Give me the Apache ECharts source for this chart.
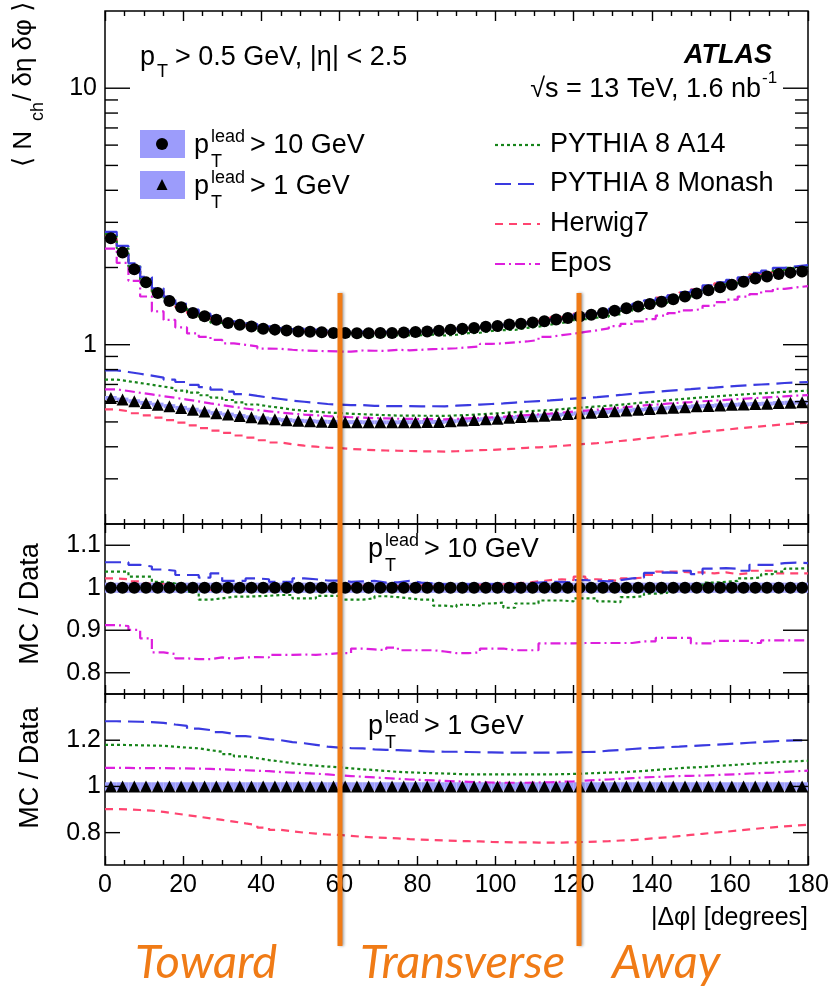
<!DOCTYPE html>
<html><head><meta charset="utf-8">
<script src="https://cdn.jsdelivr.net/npm/echarts@6/dist/echarts.min.js"></script>
<style>html,body{margin:0;padding:0;background:#fff}#c{width:832px;height:986px}</style>
</head><body><div id="c"></div>
<script>
// ---------------- data ----------------
const NBINS = 60;          // 3-degree bins from 0 to 180
const BINW = 3;
const X_MIN = 0, X_MAX = 180;

// data, <N_ch / d eta d phi>, pT(lead) > 10 GeV  (circles)
const dataLead10 = [2.60,2.29,1.97,1.75,1.59,1.48,1.40,1.33,1.29,1.25,
  1.215,1.195,1.178,1.155,1.145,1.135,1.127,1.124,1.118,1.112,
  1.110,1.108,1.108,1.110,1.112,1.115,1.120,1.127,1.134,1.145,
  1.155,1.162,1.175,1.182,1.198,1.207,1.222,1.235,1.255,1.270,
  1.289,1.308,1.330,1.358,1.386,1.410,1.440,1.472,1.505,1.542,
  1.585,1.632,1.675,1.712,1.760,1.810,1.845,1.885,1.910,1.930];
// data, pT(lead) > 1 GeV (triangles)
const dataLead1 = [0.620,0.611,0.602,0.593,0.584,0.576,0.567,0.558,0.549,0.541,
  0.534,0.527,0.521,0.516,0.512,0.508,0.505,0.503,0.501,0.500,
  0.499,0.499,0.498,0.498,0.498,0.499,0.499,0.500,0.500,0.503,
  0.506,0.509,0.512,0.515,0.519,0.523,0.526,0.529,0.533,0.537,
  0.540,0.543,0.546,0.550,0.554,0.558,0.561,0.565,0.568,0.571,
  0.575,0.577,0.580,0.583,0.585,0.587,0.589,0.592,0.594,0.596];

// MC / Data, pT(lead) > 10 GeV
const r10A14 = [1.038,1.038,1.026,1.026,1.014,1.010,0.995,0.990,0.972,0.975,
  0.979,0.979,0.980,0.981,0.983,0.983,0.975,0.975,0.981,0.981,
  0.972,0.972,0.975,0.980,0.978,0.975,0.972,0.972,0.958,0.955,
  0.960,0.958,0.963,0.965,0.953,0.963,0.963,0.970,0.970,0.968,
  0.975,0.975,0.968,0.966,0.978,0.980,0.986,0.988,0.995,0.995,
  0.998,1.012,1.014,1.016,1.022,1.024,1.032,1.038,1.045,1.046];
const r10Monash = [1.060,1.060,1.054,1.050,1.043,1.040,1.030,1.030,1.024,1.034,
  1.016,1.016,1.022,1.020,1.014,1.014,1.022,1.020,1.017,1.017,
  1.014,1.015,1.016,1.012,1.013,1.016,1.012,1.010,1.008,1.006,
  1.008,1.006,1.008,1.010,1.008,1.010,1.012,1.014,1.014,1.012,
  1.018,1.016,1.015,1.018,1.022,1.024,1.035,1.036,1.035,1.040,
  1.032,1.045,1.046,1.045,1.040,1.054,1.054,1.058,1.059,1.058];
const r10Herwig = [1.022,1.020,1.015,1.010,1.010,1.002,1.000,0.998,0.995,0.992,
  0.995,0.998,1.000,1.002,1.000,1.002,1.004,1.002,1.000,1.003,
  1.004,1.005,1.003,1.006,1.004,1.003,1.005,1.003,1.004,1.006,
  1.005,1.007,1.006,1.008,1.010,1.012,1.015,1.018,1.020,1.018,
  1.026,1.020,1.018,1.016,1.022,1.024,1.030,1.038,1.038,1.036,
  1.036,1.034,1.036,1.032,1.034,1.040,1.040,1.034,1.034,1.034];
const r10Epos = [0.912,0.910,0.901,0.881,0.848,0.844,0.834,0.832,0.832,0.836,
  0.833,0.836,0.837,0.836,0.842,0.842,0.843,0.842,0.844,0.846,
  0.846,0.857,0.855,0.853,0.859,0.853,0.853,0.853,0.850,0.846,
  0.846,0.848,0.857,0.857,0.853,0.853,0.853,0.869,0.869,0.869,
  0.870,0.870,0.870,0.870,0.870,0.874,0.874,0.882,0.882,0.882,
  0.869,0.869,0.875,0.875,0.875,0.870,0.876,0.876,0.876,0.876];

// MC / Data, pT(lead) > 1 GeV
const r1A14 = [1.180,1.179,1.178,1.177,1.176,1.172,1.168,1.165,1.157,1.150,
  1.140,1.130,1.122,1.114,1.108,1.100,1.094,1.090,1.086,1.083,
  1.078,1.074,1.071,1.067,1.063,1.061,1.059,1.057,1.056,1.054,
  1.052,1.052,1.052,1.052,1.052,1.052,1.052,1.052,1.053,1.054,
  1.056,1.058,1.060,1.061,1.064,1.067,1.071,1.075,1.079,1.082,
  1.084,1.088,1.091,1.094,1.098,1.101,1.104,1.107,1.109,1.111];
const r1Monash = [1.282,1.281,1.280,1.278,1.275,1.268,1.262,1.250,1.244,1.235,
  1.228,1.218,1.212,1.205,1.200,1.192,1.187,1.180,1.172,1.168,
  1.166,1.165,1.160,1.158,1.157,1.155,1.153,1.151,1.150,1.150,
  1.149,1.148,1.147,1.146,1.146,1.146,1.146,1.146,1.147,1.148,
  1.149,1.150,1.155,1.158,1.162,1.165,1.167,1.170,1.172,1.175,
  1.178,1.180,1.183,1.186,1.189,1.192,1.195,1.198,1.199,1.200];
const r1Herwig = [0.902,0.901,0.898,0.895,0.890,0.883,0.876,0.869,0.862,0.855,
  0.848,0.840,0.833,0.822,0.812,0.806,0.800,0.796,0.792,0.790,
  0.786,0.782,0.779,0.777,0.775,0.772,0.770,0.768,0.766,0.764,
  0.763,0.762,0.760,0.759,0.758,0.758,0.757,0.757,0.757,0.758,
  0.760,0.761,0.763,0.766,0.768,0.772,0.776,0.780,0.785,0.790,
  0.795,0.800,0.804,0.809,0.814,0.819,0.823,0.827,0.831,0.834];
const r1Epos = [1.080,1.080,1.079,1.079,1.079,1.078,1.078,1.077,1.076,1.074,
  1.072,1.070,1.068,1.066,1.062,1.060,1.058,1.055,1.052,1.048,
  1.045,1.042,1.039,1.036,1.033,1.030,1.028,1.026,1.024,1.022,
  1.020,1.018,1.017,1.016,1.016,1.016,1.017,1.018,1.020,1.022,
  1.025,1.028,1.030,1.033,1.036,1.039,1.041,1.043,1.045,1.046,
  1.047,1.049,1.051,1.053,1.056,1.058,1.060,1.063,1.066,1.068];

// relative systematic uncertainty of the data (band)
const sysLead10 = 0.012;
const sysLead1 = 0.018;

// axis ticks
const xTickInterval = 20;
const topMajorTicks = [1, 10];
const topTickLabels = ['1', '10'];
const topMinorTicks = [0.3,0.4,0.5,0.6,0.7,0.8,0.9,2,3,4,5,6,7,8,9];
const midTicks = [0.8, 0.9, 1.0, 1.1];
const midTickLabels = ['0.8', '0.9', '1', '1.1'];
const botTicks = [0.8, 1.0, 1.2];
const botTickLabels = ['0.8', '1', '1.2'];

// ---------------- helpers ----------------
const FONT = '"Liberation Sans", Arial, Helvetica, "DejaVu Sans", sans-serif';
const BAND = '#9c9cfb';
const edges = Array.from({length: NBINS + 1}, (_, i) => i * BINW);
const centers = Array.from({length: NBINS}, (_, i) => (i + 0.5) * BINW);
const mul = (a, b) => a.map((v, i) => v * b[i]);
const stepPts = vals => { const p = vals.map((v, i) => [edges[i], v]); p.push([edges[NBINS], vals[NBINS - 1]]); return p; };

const ST = {
  A14:    {color: '#16841a', type: [3, 3], width: 2.2},
  Monash: {color: '#3a3ae0', type: [16, 7], width: 2.2},
  Herwig: {color: '#ff4470', type: [8, 6], width: 2.2},
  Epos:   {color: '#dd1fdd', type: [10, 4, 2, 4], width: 2.2}
};

function lineSeries(vals, st, xi, yi) {
  return {type: 'line', data: stepPts(vals), xAxisIndex: xi, yAxisIndex: yi, step: 'end',
    showSymbol: false, symbol: 'none', silent: true, z: 3,
    lineStyle: {color: st.color, width: st.width, type: st.type}};
}
function bandSeries(lo, hi, xi, yi) {
  return {type: 'custom', xAxisIndex: xi, yAxisIndex: yi, silent: true, z: 1,
    data: lo.map((l, i) => [edges[i], edges[i + 1], l, hi[i]]),
    encode: {x: [0, 1], y: [2, 3]},
    renderItem(params, api) {
      const a = api.coord([api.value(0), api.value(3)]);
      const b = api.coord([api.value(1), api.value(2)]);
      return {type: 'rect', shape: {x: a[0], y: a[1], width: b[0] - a[0], height: b[1] - a[1]},
        style: {fill: BAND}};
    }};
}
function scatterSeries(vals, symbol, size, xi, yi) {
  return {type: 'scatter', xAxisIndex: xi, yAxisIndex: yi, silent: true, z: 5,
    data: vals.map((v, i) => [centers[i], v]), symbol, symbolSize: size,
    itemStyle: {color: '#000', opacity: 1}};
}
function tickSeries(vals, labels, len, xi, yi, gap) {
  return {type: 'custom', xAxisIndex: xi, yAxisIndex: yi, silent: true, z: 20, clip: false,
    data: vals.map(v => [X_MIN, v]), encode: {x: 0, y: 1},
    renderItem(params, api) {
      const v = api.value(1);
      const l = api.coord([X_MIN, v]), r = api.coord([X_MAX, v]);
      const ls = {stroke: '#000', lineWidth: 1.4};
      const ch = [
        {type: 'line', shape: {x1: l[0], y1: l[1], x2: l[0] + len, y2: l[1]}, style: ls},
        {type: 'line', shape: {x1: r[0] - len, y1: r[1], x2: r[0], y2: r[1]}, style: ls}
      ];
      if (labels) ch.push({type: 'text', x: l[0] - gap, y: l[1],
        style: {text: labels[params.dataIndex], align: 'right', verticalAlign: 'middle',
          fontSize: 25, fontFamily: FONT, fill: '#000'}});
      return {type: 'group', children: ch};
    }};
}
function xAx(grid, pos, labels, majLen, minLen) {
  return {type: 'value', gridIndex: grid, position: pos, min: X_MIN, max: X_MAX, interval: xTickInterval,
    axisLine: {show: false},
    axisTick: {show: true, inside: true, length: majLen, lineStyle: {color: '#000', width: 1.4}},
    minorTick: {show: true, splitNumber: 4, length: minLen, lineStyle: {color: '#000', width: 1.4}},
    axisLabel: {show: labels, fontSize: 25, fontFamily: FONT, color: '#000', margin: 8},
    splitLine: {show: false}, minorSplitLine: {show: false}};
}
const hiddenY = {axisLine: {show: false}, axisTick: {show: false}, axisLabel: {show: false},
  splitLine: {show: false}, minorTick: {show: false}};

// ---------------- graphic texts ----------------
const T = (x, y, text, size, opt) => Object.assign({type: 'text', x, y, silent: true, z: 50,
  style: Object.assign({text, fontSize: size, fontFamily: FONT, fill: '#000', align: 'left', verticalAlign: 'middle'}, (opt || {}))});

function ptLead(x, y, rest) {
  return [T(x, y, 'p', 27), T(x + 17, y - 9, 'lead', 18), T(x + 17, y + 16, 'T', 18), T(x + 56, y, rest, 27)];
}
const legLine = (y, st) => ({type: 'line', silent: true, z: 50, shape: {x1: 495, y1: y, x2: 540, y2: y},
  style: {stroke: st.color, lineWidth: st.width, lineDash: st.type}});

const ORANGE = '#f07b16';
const orangeLine = x => ({type: 'line', silent: true, z: 60, shape: {x1: x, y1: 293, x2: x, y2: 946},
  style: {stroke: ORANGE, lineWidth: 5, shadowBlur: 3, shadowColor: 'rgba(0,0,0,0.35)', shadowOffsetX: 1.5}});
const orangeText = (x, text) => ({type: 'text', x, y: 963, silent: true, z: 60,
  style: {text, fontSize: 47, fontFamily: 'Lato, "Open Sans", sans-serif', fontStyle: 'italic',
    fill: ORANGE, align: 'left', verticalAlign: 'middle'}});

const graphics = [
  // header texts
  T(140, 58, 'p', 27), T(157, 72, 'T', 18), T(175, 58, '> 0.5 GeV, |η| < 2.5', 27),
  T(772, 56, 'ATLAS', 27, {align: 'right', fontWeight: 'bold', fontStyle: 'italic'}),
  T(761, 90, '√s = 13 TeV, 1.6 nb', 27, {align: 'right'}), T(762, 78, '-1', 17),
  // data legend
  {type: 'rect', silent: true, z: 50, shape: {x: 140, y: 130, width: 45, height: 28}, style: {fill: BAND}},
  {type: 'circle', silent: true, z: 51, shape: {cx: 162, cy: 144, r: 6}, style: {fill: '#000'}},
  {type: 'rect', silent: true, z: 50, shape: {x: 140, y: 171, width: 45, height: 28}, style: {fill: BAND}},
  {type: 'polygon', silent: true, z: 51, shape: {points: [[162, 179], [156.5, 190], [167.5, 190]]}, style: {fill: '#000'}},
  ...ptLead(194, 146, '> 10 GeV'),
  ...ptLead(194, 187, '> 1 GeV'),
  // MC legend
  legLine(145, ST.A14), T(550, 145, 'PYTHIA 8 A14', 27),
  legLine(184, ST.Monash), T(550, 184, 'PYTHIA 8 Monash', 27),
  legLine(224, ST.Herwig), T(550, 224, 'Herwig7', 27),
  legLine(264, ST.Epos), T(550, 264, 'Epos', 27),
  // ratio panel labels
  ...ptLead(368, 550, '> 10 GeV'),
  ...ptLead(368, 727, '> 1 GeV'),
  // axis titles
  {type: 'group', x: 24, y: 167, rotation: Math.PI / 2, silent: true, z: 50, children: [
    {type: 'text', x: 0, y: 0, style: {text: '⟨ N', fontSize: 26, fontFamily: FONT, fill: '#000', verticalAlign: 'middle'}},
    {type: 'text', x: 46, y: 14, style: {text: 'ch', fontSize: 18, fontFamily: FONT, fill: '#000', verticalAlign: 'middle'}},
    {type: 'text', x: 66, y: 0, style: {text: '/ δη δφ ⟩', fontSize: 26, fontFamily: FONT, fill: '#000', verticalAlign: 'middle'}}
  ]},
  {type: 'group', x: 31, y: 604, rotation: Math.PI / 2, silent: true, z: 50, children: [
    {type: 'text', x: 0, y: 0, style: {text: 'MC / Data', fontSize: 27, fontFamily: FONT, fill: '#000', align: 'center', verticalAlign: 'middle'}}]},
  {type: 'group', x: 31, y: 768, rotation: Math.PI / 2, silent: true, z: 50, children: [
    {type: 'text', x: 0, y: 0, style: {text: 'MC / Data', fontSize: 27, fontFamily: FONT, fill: '#000', align: 'center', verticalAlign: 'middle'}}]},
  T(808, 918, '|Δφ| [degrees]', 25, {align: 'right'}),
  // orange overlay
  orangeLine(340), orangeLine(579),
  orangeText(135, 'Toward'), orangeText(360, 'Transverse'), orangeText(612, 'Away')
];

// ---------------- series ----------------
const ones10 = dataLead10.map(v => v / v);
const ones1 = dataLead1.map(v => v / v);
const series = [
  bandSeries(dataLead10.map(v => v * (1 - sysLead10)), dataLead10.map(v => v * (1 + sysLead10)), 0, 0),
  bandSeries(dataLead1.map(v => v * (1 - sysLead1)), dataLead1.map(v => v * (1 + sysLead1)), 0, 0),
  lineSeries(mul(dataLead10, r10Epos), ST.Epos, 0, 0),
  lineSeries(mul(dataLead10, r10Herwig), ST.Herwig, 0, 0),
  lineSeries(mul(dataLead10, r10A14), ST.A14, 0, 0),
  lineSeries(mul(dataLead10, r10Monash), ST.Monash, 0, 0),
  lineSeries(mul(dataLead1, r1Epos), ST.Epos, 0, 0),
  lineSeries(mul(dataLead1, r1Herwig), ST.Herwig, 0, 0),
  lineSeries(mul(dataLead1, r1A14), ST.A14, 0, 0),
  lineSeries(mul(dataLead1, r1Monash), ST.Monash, 0, 0),
  scatterSeries(dataLead10, 'circle', 12, 0, 0),
  scatterSeries(dataLead1, 'triangle', 12, 0, 0),
  tickSeries(topMajorTicks, topTickLabels, 25, 0, 0, 8),
  tickSeries(topMinorTicks, null, 13, 0, 0, 0),
  // middle ratio
  bandSeries(ones10.map(v => v - sysLead10), ones10.map(v => v + sysLead10), 2, 1),
  lineSeries(r10Epos, ST.Epos, 2, 1),
  lineSeries(r10Herwig, ST.Herwig, 2, 1),
  lineSeries(r10A14, ST.A14, 2, 1),
  lineSeries(r10Monash, ST.Monash, 2, 1),
  scatterSeries(ones10, 'circle', 12, 2, 1),
  tickSeries(midTicks, midTickLabels, 25, 2, 1, 4),
  // bottom ratio
  bandSeries(ones1.map(v => v - sysLead1), ones1.map(v => v + sysLead1), 4, 2),
  lineSeries(r1Epos, ST.Epos, 4, 2),
  lineSeries(r1Herwig, ST.Herwig, 4, 2),
  lineSeries(r1A14, ST.A14, 4, 2),
  lineSeries(r1Monash, ST.Monash, 4, 2),
  scatterSeries(ones1, 'triangle', 12, 4, 2),
  tickSeries(botTicks, botTickLabels, 15, 4, 2, 4)
];

const gridBase = {left: 105, right: 24, show: true, borderColor: '#000', borderWidth: 1.5, backgroundColor: 'transparent', containLabel: false};
const option = {
  animation: false,
  backgroundColor: '#fff',
  grid: [
    Object.assign({top: 11, height: 513}, gridBase),
    Object.assign({top: 524, height: 170}, gridBase),
    Object.assign({top: 694, height: 171}, gridBase)
  ],
  xAxis: [
    xAx(0, 'bottom', false, 10, 5), xAx(0, 'top', false, 10, 5),
    xAx(1, 'bottom', false, 9, 5), xAx(1, 'top', false, 9, 5),
    xAx(2, 'bottom', true, 9, 5), xAx(2, 'top', false, 9, 5)
  ],
  yAxis: [
    Object.assign({type: 'log', logBase: 10, gridIndex: 0, min: 0.2, max: 20}, hiddenY),
    Object.assign({type: 'value', gridIndex: 1, min: 0.75, max: 1.15}, hiddenY),
    Object.assign({type: 'value', gridIndex: 2, min: 0.66, max: 1.40}, hiddenY)
  ],
  series,
  graphic: graphics
};
const chart = echarts.init(document.getElementById('c'));
chart.setOption(option);
</script>
</body></html>
